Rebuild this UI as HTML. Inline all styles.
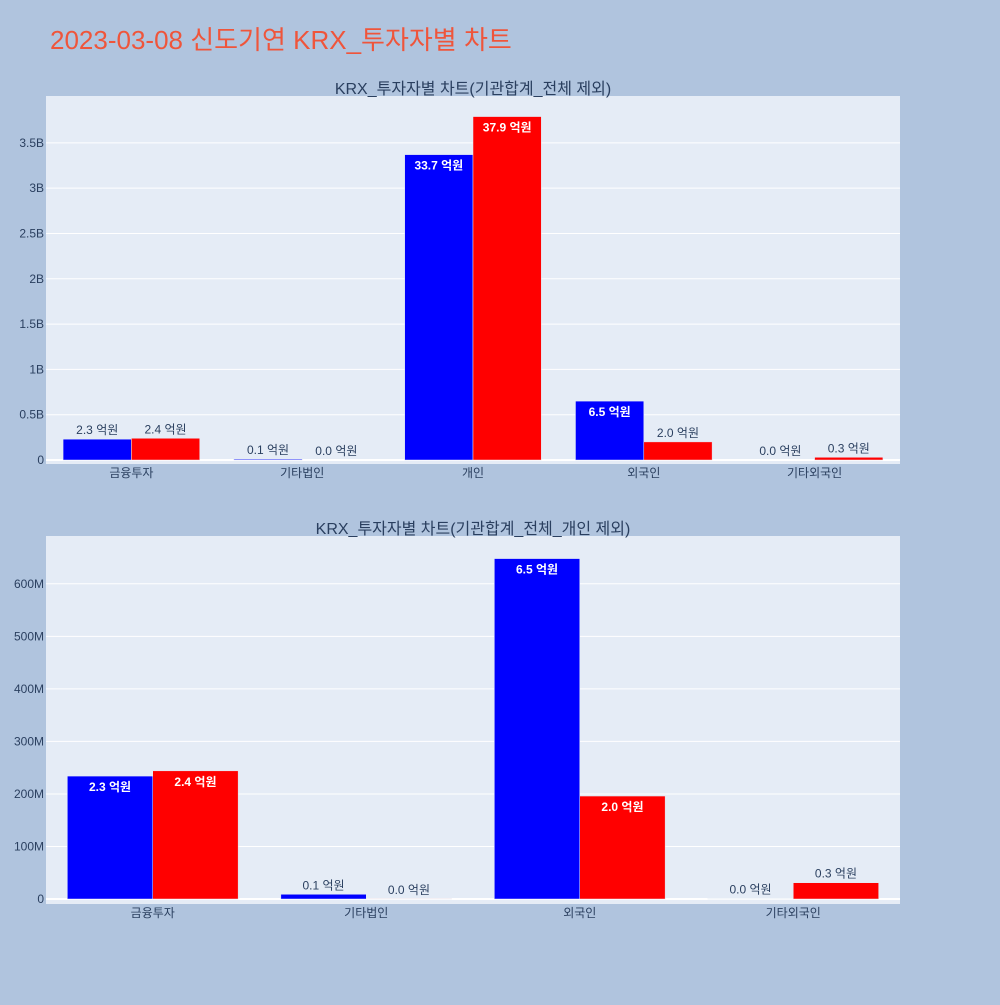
<!DOCTYPE html>
<html><head><meta charset="utf-8"><style>
body{margin:0;background:#b0c4de;width:1000px;height:1000px;overflow:hidden;font-family:"Liberation Sans","Noto Sans CJK KR",sans-serif}
</style></head><body>
<svg id="svg" width="1000" height="1000" xmlns="http://www.w3.org/2000/svg" style="font-family:'Liberation Sans','Noto Sans CJK KR',sans-serif">
<text x="50" y="49" font-size="26" fill="#ef553b">2023-03-08 신도기연 KRX_투자자별 차트</text>
</svg>
<script>
const cats1=["금융투자","기타법인","개인","외국인","기타외국인"];
const buy1=[0.23,0.01,3.37,0.65,0.00];
const sell1=[0.24,0.00,3.79,0.20,0.03];
const buyLbl1=["2.3 억원","0.1 억원","33.7 억원","6.5 억원","0.0 억원"];
const sellLbl1=["2.4 억원","0.0 억원","37.9 억원","2.0 억원","0.3 억원"];
const ticks1=[0,0.5,1,1.5,2,2.5,3,3.5];
const tickLbl1=["0","0.5B","1B","1.5B","2B","2.5B","3B","3.5B"];
const cats2=["금융투자","기타법인","외국인","기타외국인"];
const buy2=[234,9,648,0.5];
const sell2=[244,0.3,196,31];
const buyLbl2=["2.3 억원","0.1 억원","6.5 억원","0.0 억원"];
const sellLbl2=["2.4 억원","0.0 억원","2.0 억원","0.3 억원"];
const ticks2=[0,100,200,300,400,500,600];
const tickLbl2=["0","100M","200M","300M","400M","500M","600M"];
const NS="http://www.w3.org/2000/svg";
const svg=document.getElementById('svg');
function mk(tag,attrs,parent){const e=document.createElementNS(NS,tag);for(const k in attrs)e.setAttribute(k,attrs[k]);(parent||svg).appendChild(e);return e;}
function chart(o){
  const g=mk('g',{});
  
  
  const bg=mk('rect',{x:o.x0,y:o.y0,width:o.x1-o.x0,height:o.y1-o.y0,fill:'#e5ecf6'},g);
  
  
  const Y=v=>o.y1-(v-o.ymin)/(o.ymax-o.ymin)*(o.y1-o.y0);
  const n=o.cats.length, cw=(o.x1-o.x0)/n, bw=cw*0.4;
  o.ticks.forEach((t,i)=>{
    const gl=mk('line',{x1:o.x0,x2:o.x1,y1:Y(t),y2:Y(t),stroke:'#fff','stroke-width':t===0?2:1},g);
    
    
    const tl=mk('text',{x:o.x0-2,y:Y(t)+4,'text-anchor':'end','font-size':12,fill:'#2a3f5f'},g);
    tl.textContent=o.tickLbl[i];
    
    
  });
  o.cats.forEach((c,i)=>{
    const cx=o.x0+cw*(i+0.5);
    [[o.buy[i],o.buyLbl[i],'#0000ff',cx-bw],[o.sell[i],o.sellLbl[i],'#ff0000',cx]].forEach(([v,l,col,bx],j)=>{
      const yt=Y(v), yb=Y(0), h=Math.max(yb-yt,0);
      const r=mk('rect',{x:bx,y:yt,width:bw,height:h,fill:col,stroke:'#e5ecf6','stroke-width':0.5},g);
      
      
      const inside=h>22;
      const t=mk('text',{x:bx+bw/2,y:inside?yt+15:yt-5,'text-anchor':'middle','font-size':12,fill:inside?'#fff':'#2a3f5f','font-weight':inside?'bold':'normal'},g);
      t.textContent=l;
      
      
    });
    const xl=mk('text',{x:cx,y:o.y1+13,'text-anchor':'middle','font-size':12,fill:'#2a3f5f'},g);
    xl.textContent=c;
    
    
  });
  const tt=mk('text',{x:(o.x0+o.x1)/2,y:o.y0-2,'text-anchor':'middle','font-size':16,fill:'#2a3f5f'},g);
  tt.textContent=o.title;
  
  
}
chart({name:'chart-all',x0:46,x1:900,y0:96,y1:464,ymin:-0.044,ymax:4.017,cats:cats1,buy:buy1,sell:sell1,buyLbl:buyLbl1,sellLbl:sellLbl1,ticks:ticks1,tickLbl:tickLbl1,title:'KRX_투자자별 차트(기관합계_전체 제외)'});
chart({name:'chart-excl-individual',x0:46,x1:900,y0:536,y1:904,ymin:-9.5,ymax:691,cats:cats2,buy:buy2,sell:sell2,buyLbl:buyLbl2,sellLbl:sellLbl2,ticks:ticks2,tickLbl:tickLbl2,title:'KRX_투자자별 차트(기관합계_전체_개인 제외)'});
</script>
</body></html>
